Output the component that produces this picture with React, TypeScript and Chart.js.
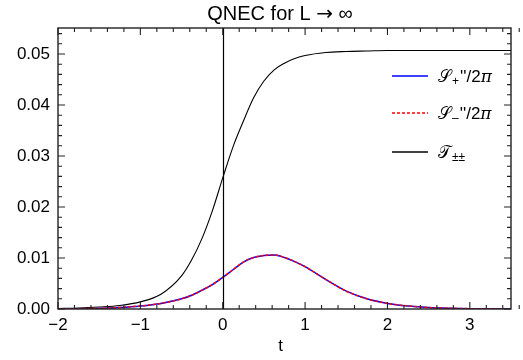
import React, { useEffect, useRef } from "react";
import { Chart, registerables } from "chart.js";

Chart.register(...registerables);

const tValues = [-2, -1.75, -1.5, -1.25, -1, -0.75, -0.5, -0.375, -0.25, -0.125, 0, 0.125, 0.25, 0.375, 0.5, 0.625, 0.75, 0.875, 1, 1.25, 1.5, 1.75, 2, 2.25, 2.5, 2.75, 3, 3.25, 3.5];
const tSeries = [0.0001, 0.0002, 0.0004, 0.0007, 0.0014, 0.0029, 0.0065, 0.0097, 0.0139, 0.0193, 0.0257, 0.0318, 0.0368, 0.0414, 0.0447, 0.0469, 0.0482, 0.0491, 0.0497, 0.0503, 0.0505, 0.0506, 0.0507, 0.0507, 0.0507, 0.0507, 0.0507, 0.0507, 0.0507];
const sPlus = [0.00003, 0.00006, 0.00012, 0.0003, 0.0006, 0.0011, 0.002, 0.0027, 0.0037, 0.0048, 0.0062, 0.0077, 0.0092, 0.0101, 0.0105, 0.0106, 0.0101, 0.0093, 0.0083, 0.0058, 0.0035, 0.002, 0.0011, 0.0006, 0.0003, 0.00015, 0.00007, 0.00003, 0.00001];
const sMinus = sPlus.slice();

const xTicks = [-2, -1, 0, 1, 2, 3];
const xTickLabels = ["\u22122", "\u22121", "0", "1", "2", "3"];
const yTicks = [0, 0.01, 0.02, 0.03, 0.04, 0.05];
const yTickLabels = ["0.00", "0.01", "0.02", "0.03", "0.04", "0.05"];
const xRange = [-2, 3.5];
const yRange = [0, 0.0551];
const xMinorStep = 0.2;
const yMinorStep = 0.002;

const titleParts = ["QNEC for L ", "\u2192", " \u221e"];
const xTitle = "t";

const FONT = "'Liberation Sans', Arial, sans-serif";
const FRAME = "#222";

const overlay = {
  id: "overlay",
  afterDraw(chart: any) {
    const ctx = chart.ctx;
    const xs = chart.scales.x;
    const ys = chart.scales.y;
    const L = Math.round(xs.getPixelForValue(xRange[0]));
    const R = Math.round(xs.getPixelForValue(xRange[1]));
    const T = Math.round(ys.getPixelForValue(yRange[1]));
    const B = Math.round(ys.getPixelForValue(yRange[0]));
    ctx.save();
    ctx.setLineDash([]);
    // vertical line at t=0
    ctx.strokeStyle = "#000";
    ctx.lineWidth = 1.2;
    const x0 = Math.round(xs.getPixelForValue(0)) + 0.5;
    ctx.beginPath();
    ctx.moveTo(x0, T);
    ctx.lineTo(x0, B);
    ctx.stroke();

    // frame
    ctx.strokeStyle = FRAME;
    ctx.lineWidth = 1.4;
    ctx.strokeRect(L, T, R - L, B - T);

    // ticks
    ctx.lineWidth = 1.1;
    ctx.beginPath();
    const nx = Math.round((xRange[1] - xRange[0]) / xMinorStep);
    for (let i = 0; i <= nx; i++) {
      const v = xRange[0] + i * xMinorStep;
      const major = Math.abs(v - Math.round(v)) < 1e-6;
      const len = major ? 7 : 4;
      const px = xs.getPixelForValue(v);
      ctx.moveTo(px, B);
      ctx.lineTo(px, B - len);
      ctx.moveTo(px, T);
      ctx.lineTo(px, T + len);
    }
    const ny = Math.floor((yRange[1] - yRange[0]) / yMinorStep + 1e-6);
    for (let i = 0; i <= ny; i++) {
      const v = yRange[0] + i * yMinorStep;
      const major = Math.abs(v / 0.01 - Math.round(v / 0.01)) < 1e-6;
      const len = major ? 7 : 4;
      const py = ys.getPixelForValue(v);
      ctx.moveTo(L, py);
      ctx.lineTo(L + len, py);
      ctx.moveTo(R, py);
      ctx.lineTo(R - len, py);
    }
    ctx.stroke();

    // title (arrow in DejaVu Sans for a full-size glyph)
    ctx.fillStyle = "#000";
    ctx.textAlign = "left";
    ctx.textBaseline = "alphabetic";
    const fonts = [`20px ${FONT}`, `20px 'DejaVu Sans', ${FONT}`, `20px ${FONT}`];
    let total = 0;
    const widths = titleParts.map((p, i) => { ctx.font = fonts[i]; const w = ctx.measureText(p).width; total += w; return w; });
    let tx = 280 - total / 2;
    titleParts.forEach((p, i) => { ctx.font = fonts[i]; ctx.fillText(p, tx, 20); tx += widths[i]; });
    // x title
    ctx.textAlign = "center";
    ctx.font = `17px ${FONT}`;
    ctx.fillText(xTitle, (L + R) / 2 - 4, 351);

    // legend
    const items = [
      { color: "#0000ff", dash: [] as number[], main: "\ud835\udcae", sub: "+", rest: true },
      { color: "#ff0000", dash: [3, 2], main: "\ud835\udcae", sub: "\u2013", rest: true },
      { color: "#000000", dash: [] as number[], main: "\ud835\udcaf", sub: "\u00b1\u00b1", rest: false },
    ];
    const rowsY = [76, 113, 152];
    items.forEach((it, i) => {
      const y = rowsY[i];
      ctx.strokeStyle = it.color;
      ctx.lineWidth = 1.4;
      ctx.setLineDash(it.dash);
      ctx.beginPath();
      ctx.moveTo(392, y);
      ctx.lineTo(428, y);
      ctx.stroke();
      ctx.setLineDash([]);
      ctx.fillStyle = "#000";
      ctx.textAlign = "left";
      ctx.textBaseline = "alphabetic";
      let x = 438;
      const base = y + 6;
      ctx.font = `17px 'DejaVu Serif', ${FONT}`;
      ctx.fillText(it.main, x, base);
      x += ctx.measureText(it.main).width + 1;
      ctx.font = `12px ${FONT}`;
      ctx.fillText(it.sub, x, base + 3);
      x += ctx.measureText(it.sub).width + 1;
      if (it.rest) {
        ctx.font = `17px ${FONT}`;
        ctx.fillText("''/2", x, base);
        x += ctx.measureText("''/2").width;
        ctx.font = `italic 17px 'DejaVu Serif', ${FONT}`;
        ctx.fillText("\u03c0", x, base);
      }
    });
    ctx.restore();
  },
};

export default function App() {
  const ref = useRef<HTMLCanvasElement | null>(null);
  useEffect(() => {
    document.body.style.margin = "0";
    const canvas = ref.current;
    if (!canvas) return;
    const mk = (arr: number[]) => tValues.map((t, i) => ({ x: t, y: arr[i] }));
    const chart = new Chart(canvas, {
      type: "line",
      data: {
        datasets: [
          { label: "S-", order: 0, data: mk(sMinus), borderColor: "#ff0000", borderWidth: 1.5, borderDash: [3, 2], pointRadius: 0, cubicInterpolationMode: "monotone", fill: false },
          { label: "S+", order: 1, data: mk(sPlus), borderColor: "#0000ff", borderWidth: 1.5, pointRadius: 0, cubicInterpolationMode: "monotone", fill: false },
          { label: "T", order: 2, data: mk(tSeries), borderColor: "#000", borderWidth: 1.1, pointRadius: 0, cubicInterpolationMode: "monotone", fill: false },
        ],
      },
      options: {
        responsive: false,
        animation: false,
        layout: { padding: { top: 28, right: 12, left: 0, bottom: 0 } },
        plugins: { legend: { display: false }, title: { display: false }, tooltip: { enabled: false } },
        scales: {
          x: {
            type: "linear",
            min: xRange[0],
            max: xRange[1],
            grid: { display: false, drawTicks: false },
            border: { display: false },
            afterBuildTicks: (s: any) => { s.ticks = xTicks.map((v) => ({ value: v })); },
            afterFit: (s: any) => { s.height = 51; },
            ticks: {
              autoSkip: false,
              maxRotation: 0,
              padding: 6,
              color: "#000",
              font: { family: FONT, size: 17 },
              callback: (v: any) => { const i = xTicks.indexOf(Number(v)); return i >= 0 ? xTickLabels[i] : ""; },
            },
          },
          y: {
            type: "linear",
            min: yRange[0],
            max: yRange[1],
            grid: { display: false, drawTicks: false },
            border: { display: false },
            afterBuildTicks: (s: any) => { s.ticks = yTicks.map((v) => ({ value: v })); },
            afterFit: (s: any) => { s.width = 58; },
            ticks: {
              autoSkip: false,
              padding: 8,
              color: "#000",
              font: { family: FONT, size: 17 },
              callback: (v: any) => { const i = yTicks.findIndex((t) => Math.abs(t - Number(v)) < 1e-9); return i >= 0 ? yTickLabels[i] : ""; },
            },
          },
        },
      },
      plugins: [overlay],
    } as any);
    return () => chart.destroy();
  }, []);
  return (
    <div style={{ width: 523, height: 360 }}>
      <canvas ref={ref} width={523} height={360} style={{ display: "block" }} />
    </div>
  );
}
